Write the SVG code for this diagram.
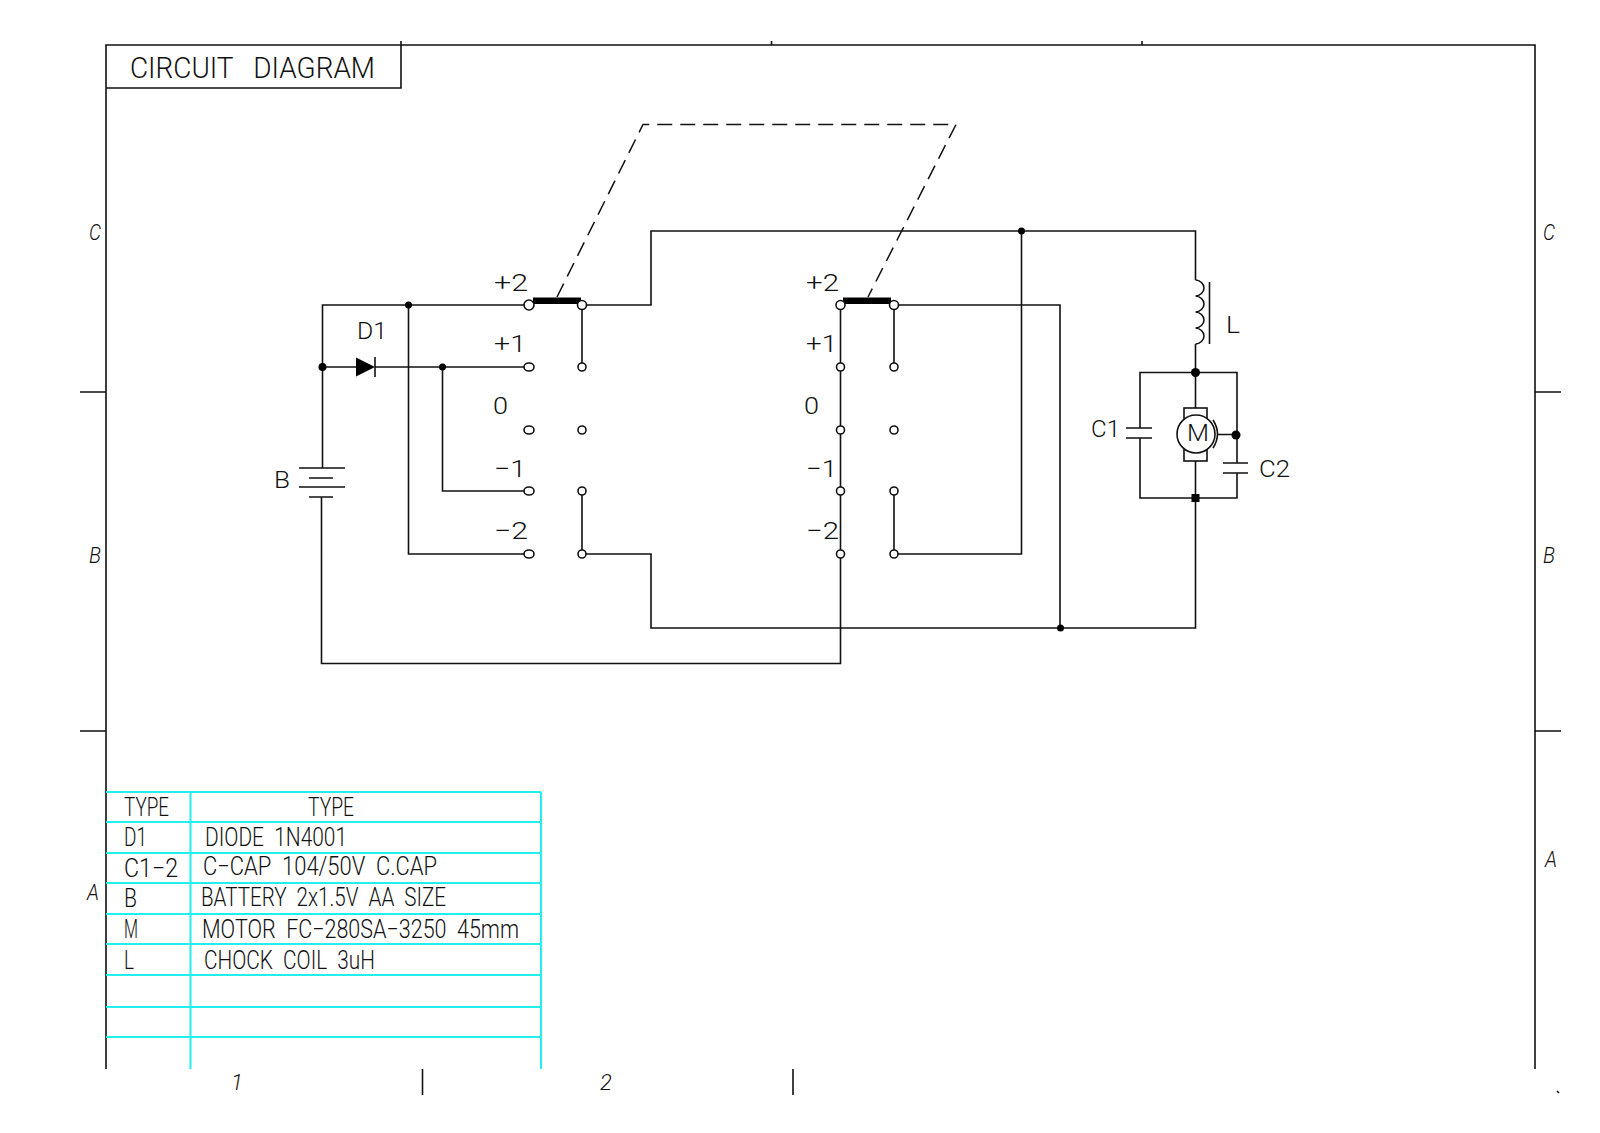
<svg xmlns="http://www.w3.org/2000/svg" width="1600" height="1133" viewBox="0 0 1600 1133">
<defs>
<style>
.w{fill:none;stroke:#111;stroke-width:1.6}
.f{fill:#000;stroke:none}
.c{fill:#fff;stroke:#111;stroke-width:1.6}
.g{fill:none;stroke:#22eeee;stroke-width:2}
.d{fill:none;stroke:#111;stroke-width:1.5;stroke-dasharray:15 8}
text{font-family:"Roboto","Liberation Sans",sans-serif;font-weight:300;fill:#111}
.s{font-size:26px}
.l{font-size:24px}
.i{font-size:22px;font-style:italic}
</style>
</defs>
<rect width="1600" height="1133" fill="#fff"/>
<g id="frame">
<path class="w" d="M106 1069V45H1535V1069M106 88H401V41M771.500 41V45M1142 41V45M80 392H106M80 731H106M1535 392H1561M1535 731H1561M422.500 1069V1095M793 1069V1095M1557 1091L1559 1093"/>
<text class="i" x="95" y="240" text-anchor="middle" textLength="12" lengthAdjust="spacingAndGlyphs">C</text>
<text class="i" x="95" y="563" text-anchor="middle" textLength="12" lengthAdjust="spacingAndGlyphs">B</text>
<text class="i" x="93" y="900" text-anchor="middle" textLength="12" lengthAdjust="spacingAndGlyphs">A</text>
<text class="i" x="1549" y="240" text-anchor="middle" textLength="12" lengthAdjust="spacingAndGlyphs">C</text>
<text class="i" x="1549" y="563" text-anchor="middle" textLength="12" lengthAdjust="spacingAndGlyphs">B</text>
<text class="i" x="1551" y="867" text-anchor="middle" textLength="12" lengthAdjust="spacingAndGlyphs">A</text>
<text class="i" x="237" y="1090" text-anchor="middle">1</text>
<text class="i" x="606" y="1090" text-anchor="middle">2</text>
</g>
<g id="title">
<text x="130" y="78" font-size="30" textLength="245" lengthAdjust="spacingAndGlyphs" xml:space="preserve">CIRCUIT   DIAGRAM</text>
</g>
<g id="parts-table">
<path class="g" d="M106 792H541M106 822H541M106 853H541M106 883H541M106 914H541M106 944H541M106 975H541M106 1007H541M106 1037H541M190.500 792V1069M541 792V1069"/>
<text class="s" x="124" y="815.500" textLength="45" lengthAdjust="spacingAndGlyphs">TYPE</text>
<text class="s" x="308" y="815.500" textLength="46" lengthAdjust="spacingAndGlyphs">TYPE</text>
<text class="s" x="124" y="845.500" textLength="23" lengthAdjust="spacingAndGlyphs">D1</text>
<text class="s" x="205" y="845.500" textLength="142" lengthAdjust="spacingAndGlyphs" xml:space="preserve">DIODE  1N4001</text>
<text class="s" x="124" y="877" textLength="54" lengthAdjust="spacingAndGlyphs">C1−2</text>
<text class="s" x="203" y="874.500" textLength="234" lengthAdjust="spacingAndGlyphs" xml:space="preserve">C−CAP  104/50V  C.CAP</text>
<text class="s" x="124" y="907" textLength="13" lengthAdjust="spacingAndGlyphs">B</text>
<text class="s" x="201" y="905.500" textLength="245" lengthAdjust="spacingAndGlyphs" xml:space="preserve">BATTERY  2x1.5V  AA  SIZE</text>
<text class="s" x="124" y="938" textLength="14" lengthAdjust="spacingAndGlyphs">M</text>
<text class="s" x="202" y="938" textLength="317" lengthAdjust="spacingAndGlyphs" xml:space="preserve">MOTOR  FC−280SA−3250  45mm</text>
<text class="s" x="124" y="968.500" textLength="10" lengthAdjust="spacingAndGlyphs">L</text>
<text class="s" x="204" y="968.500" textLength="171" lengthAdjust="spacingAndGlyphs" xml:space="preserve">CHOCK  COIL  3uH</text>
</g>
<g id="connectors">
<path class="w" d="M322.500 468V305H529M322.500 367H356M375 367H529M408.500 305V554H529M442.500 367V491H529M321.500 497V663.500H840.500V305M582 305V367M582 491V554M582 305H651V231H1195.500V280M582 554H651V628H1195.500V498M894 305V367M894 491V554M894 305H1060V628M894 554H1021.500V231M1195.500 344V408M1195.500 461V498M1140 438V498H1237V473M1140 428V372.500H1237V463"/>
<path class="d" d="M557 297L643 124.500H956L868 297"/>
<circle class="f" cx="408.500" cy="305" r="3.500"/>
<circle class="f" cx="322.500" cy="367" r="4"/>
<circle class="f" cx="442.500" cy="367" r="3.500"/>
<circle class="f" cx="1021.500" cy="231" r="3.500"/>
<circle class="f" cx="1060.500" cy="628" r="3.500"/>
<circle class="f" cx="1195.500" cy="372.500" r="4.500"/>
<rect class="f" x="1191.500" y="494" width="8" height="8"/>
</g>
<g id="battery-B">
<path class="w" d="M299 468H345M309 478H333M299 487H345M309 497H333"/>
<text class="l" x="274" y="488" textLength="16" lengthAdjust="spacingAndGlyphs">B</text>
</g>
<g id="diode-D1">
<path class="f" d="M356 357.500L375 367L356 376.500Z"/>
<path class="w" d="M375 357V377"/>
<text class="l" x="357" y="339" textLength="30" lengthAdjust="spacingAndGlyphs">D1</text>
</g>
<g id="switch-1">
<rect class="f" x="533" y="297.500" width="48" height="6.500"/>
<ellipse class="c" cx="529" cy="305" rx="5" ry="5"/>
<circle class="c" cx="582" cy="305" r="4.500"/>
<ellipse class="c" cx="529" cy="367" rx="5" ry="4"/>
<circle class="c" cx="582" cy="367" r="4"/>
<ellipse class="c" cx="529" cy="430" rx="5" ry="4"/>
<circle class="c" cx="582" cy="430" r="4"/>
<ellipse class="c" cx="529" cy="491" rx="5" ry="4"/>
<circle class="c" cx="582" cy="491" r="4"/>
<ellipse class="c" cx="529" cy="554" rx="5" ry="4"/>
<circle class="c" cx="582" cy="554" r="4"/>
<text class="l" x="494" y="291" textLength="34" lengthAdjust="spacingAndGlyphs">+2</text>
<text class="l" x="494" y="352" textLength="32" lengthAdjust="spacingAndGlyphs">+1</text>
<text class="l" x="493" y="414" textLength="15" lengthAdjust="spacingAndGlyphs">0</text>
<text class="l" x="494" y="477" textLength="32" lengthAdjust="spacingAndGlyphs">−1</text>
<text class="l" x="494" y="539" textLength="34" lengthAdjust="spacingAndGlyphs">−2</text>
</g>
<g id="switch-2">
<rect class="f" x="843" y="297.500" width="48" height="6.500"/>
<circle class="c" cx="840.500" cy="305" r="4.500"/>
<circle class="c" cx="894" cy="305" r="4.500"/>
<circle class="c" cx="840.500" cy="367" r="4"/>
<circle class="c" cx="894" cy="367" r="4"/>
<circle class="c" cx="840.500" cy="430" r="4"/>
<circle class="c" cx="894" cy="430" r="4"/>
<circle class="c" cx="840.500" cy="491" r="4"/>
<circle class="c" cx="894" cy="491" r="4"/>
<circle class="c" cx="840.500" cy="554" r="4"/>
<circle class="c" cx="894" cy="554" r="4"/>
<text class="l" x="806" y="291" textLength="33" lengthAdjust="spacingAndGlyphs">+2</text>
<text class="l" x="806" y="352" textLength="31" lengthAdjust="spacingAndGlyphs">+1</text>
<text class="l" x="804" y="414" textLength="15" lengthAdjust="spacingAndGlyphs">0</text>
<text class="l" x="806" y="477" textLength="31" lengthAdjust="spacingAndGlyphs">−1</text>
<text class="l" x="806" y="539" textLength="33" lengthAdjust="spacingAndGlyphs">−2</text>
</g>
<g id="coil-L">
<path class="w" d="M1195.500 280C1200 280 1204 284 1204 288C1204 292 1200 296 1195.500 296C1200 296 1204 300 1204 304C1204 308 1200 312 1195.500 312C1200 312 1204 316 1204 320C1204 324 1200 328 1195.500 328C1200 328 1204 332 1204 336C1204 340 1200 344 1195.500 344M1209.500 282V344"/>
<text class="l" x="1226" y="333" textLength="14" lengthAdjust="spacingAndGlyphs">L</text>
</g>
<g id="capacitor-C1">
<path class="w" d="M1126 428H1152M1126 438H1152"/>
<text class="l" x="1091" y="437" textLength="29" lengthAdjust="spacingAndGlyphs">C1</text>
</g>
<g id="capacitor-C2">
<path class="w" d="M1223 463H1248M1223 473H1248"/>
<text class="l" x="1259" y="477" textLength="31" lengthAdjust="spacingAndGlyphs">C2</text>
</g>
<g id="motor-M">
<rect class="w" x="1184" y="408" width="23" height="53"/>
<circle class="c" cx="1196" cy="434" r="19"/>
<path class="w" d="M1213 420Q1222 434 1213 448M1218 434.500H1236"/>
<circle class="f" cx="1236" cy="435" r="4.500"/>
<text x="1187" y="441" font-size="23" textLength="22" lengthAdjust="spacingAndGlyphs">M</text>
</g>
</svg>
